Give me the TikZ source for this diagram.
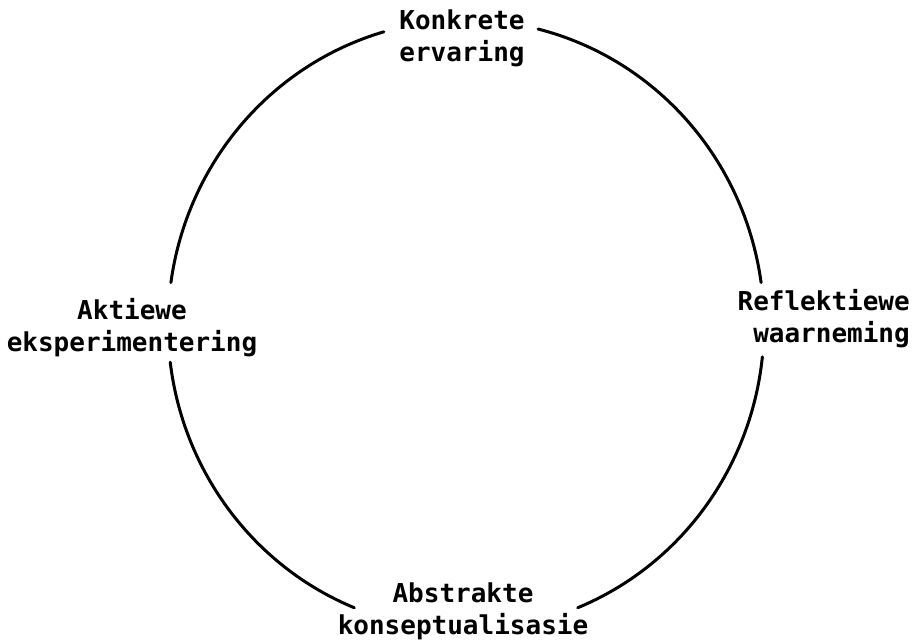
\documentclass[tikz,border=0pt]{standalone}
\usepackage{fontspec}
\newfontfamily\labfont{DejaVu Sans Mono}
\begin{document}
\begin{tikzpicture}[x=1pt,y=1pt,
  lab/.style={font=\labfont\bfseries\fontsize{26}{32}\selectfont, inner sep=0pt, align=center},
  cyc/.style={line width=3pt, line cap=round}]
\useasboundingbox (0,0) rectangle (914,643);
\coordinate (C) at (466,318);
\node[lab, anchor=base] (kon) at (462,581) {Konkrete\\ervaring};
\node[lab, anchor=base east, align=right] (ref) at (910,300) {Reflektiewe\\waarneming};
\node[lab, anchor=base] (abs) at (463,8) {Abstrakte\\konseptualisasie};
\node[lab, anchor=base] (akt) at (132,291) {Aktiewe\\eksperimentering};
\draw[cyc] ([shift={(8:298pt and 305pt)}]C) arc[start angle=8, end angle=76, x radius=298pt, y radius=305pt];
\draw[cyc] ([shift={(106:298pt and 305pt)}]C) arc[start angle=106, end angle=172, x radius=298pt, y radius=305pt];
\draw[cyc] ([shift={(187:298pt and 305pt)}]C) arc[start angle=187, end angle=248, x radius=298pt, y radius=305pt];
\draw[cyc] ([shift={(292:298pt and 305pt)}]C) arc[start angle=292, end angle=354, x radius=298pt, y radius=305pt];
\end{tikzpicture}
\end{document}
